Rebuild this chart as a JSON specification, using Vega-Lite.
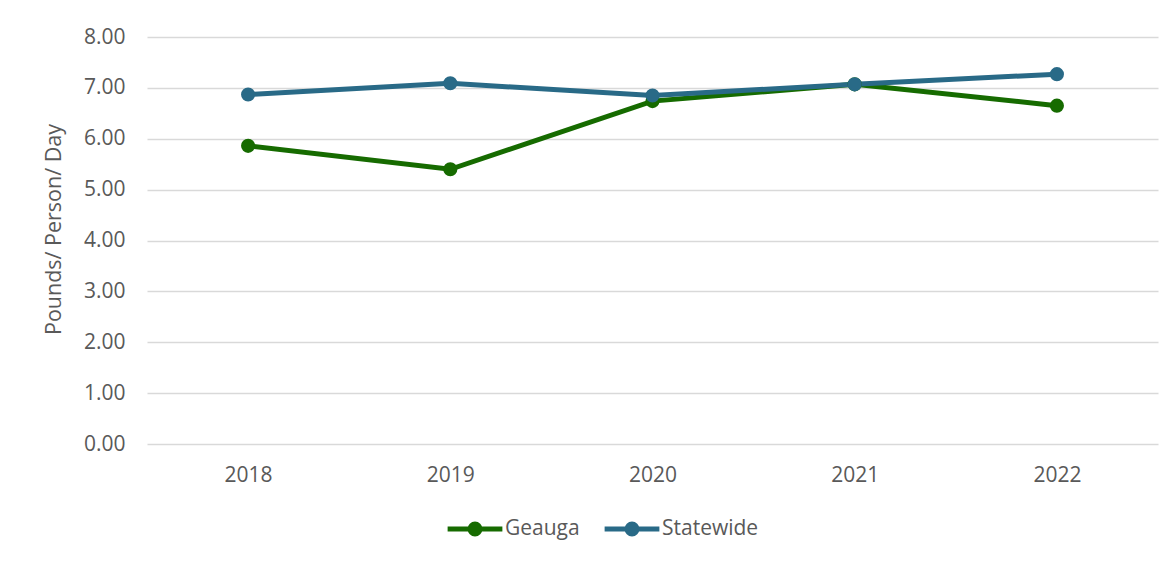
{
  "$schema": "https://vega.github.io/schema/vega-lite/v6.json",
  "width": 1011,
  "height": 407,
  "autosize": "none",
  "padding": {"left": 147, "top": 37, "right": 15, "bottom": 118},
  "background": "white",
  "config": {
    "view": {"stroke": null},
    "font": "Open Sans",
    "axis": {"labelFont": "Open Sans", "titleFont": "Open Sans", "labelColor": "#595959", "titleColor": "#595959", "gridColor": "#d9d9d9", "gridWidth": 1.5}
  },
  "data": {
    "values": [
      {"year": "2018", "series": "Geauga", "value": 5.86},
      {"year": "2019", "series": "Geauga", "value": 5.40},
      {"year": "2020", "series": "Geauga", "value": 6.74},
      {"year": "2021", "series": "Geauga", "value": 7.07},
      {"year": "2022", "series": "Geauga", "value": 6.65},
      {"year": "2018", "series": "Statewide", "value": 6.87},
      {"year": "2019", "series": "Statewide", "value": 7.09},
      {"year": "2020", "series": "Statewide", "value": 6.85},
      {"year": "2021", "series": "Statewide", "value": 7.07},
      {"year": "2022", "series": "Statewide", "value": 7.27}
    ]
  },
  "mark": {"type": "line", "strokeWidth": 5, "point": {"filled": true, "size": 200}},
  "encoding": {
    "x": {
      "field": "year", "type": "ordinal",
      "scale": {"type": "point", "padding": 0.5},
      "axis": {"title": null, "labelAngle": 0, "labelFontSize": 21, "labelPadding": 20, "ticks": false, "domain": false, "grid": false}
    },
    "y": {
      "field": "value", "type": "quantitative",
      "scale": {"domain": [0, 8]},
      "axis": {"title": "Pounds/ Person/ Day", "titleFontSize": 21.5, "titleFontWeight": "normal", "titlePadding": 18, "titleY": 192, "labelFontSize": 21, "labelPadding": 22, "labelOverlap": false, "format": ".2f", "values": [0,1,2,3,4,5,6,7,8], "ticks": false, "domain": false}
    },
    "color": {
      "field": "series", "type": "nominal",
      "scale": {"domain": ["Geauga", "Statewide"], "range": ["#166b00", "#296a87"]},
      "legend": {
        "title": null, "orient": "none", "legendX": 298, "legendY": 462, "direction": "horizontal",
        "labelFontSize": 21, "labelColor": "#595959", "labelOffset": 0, "columnPadding": 14,
        "symbolType": "M-1,0L1,0M-0.18,0A0.18,0.18,0,1,1,0.18,0A0.18,0.18,0,1,1,-0.18,0",
        "symbolSize": 3000, "symbolStrokeWidth": 5
      }
    }
  }
}
